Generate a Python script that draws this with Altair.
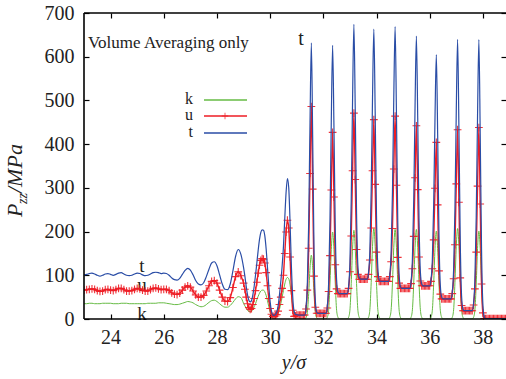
import altair as alt
import numpy as np
import pandas as pd

# ---------------- data ----------------
# grid of y/sigma positions: 0.1 steps up to 28.9, then 0.05 steps
x_coarse = np.round(23.0 + 0.1 * np.arange(60), 2)
x_fine = np.round(29.0 + 0.05 * np.arange(199), 2)
y_sigma = list(x_coarse) + list(x_fine)

t_vals = [
    101, 102, 104, 105, 103, 100, 98, 100, 103, 104,
    102, 100, 102, 105, 106, 103, 100, 99, 100, 103,
    105, 104, 101, 99, 100, 103, 106, 107, 106, 104,
    105, 104, 100, 94, 90, 89, 93, 102, 111, 116,
    112, 101, 88, 80, 78, 83, 97, 114, 128, 131,
    122, 101, 80, 68, 67, 80, 110, 143, 159, 148,
    118, 98, 75, 55, 43, 39, 42, 55, 75, 100,
    128, 157, 182, 198, 204, 203, 190, 160, 118, 75,
    40, 18, 9, 8, 10, 16, 30, 55, 85, 120,
    165, 230, 290, 321, 300, 220, 120, 50, 18, 11,
    10, 9, 9, 9, 9, 9, 9, 26, 81, 220,
    450, 632, 414, 156, 42, 16, 13, 13, 13, 13,
    13, 13, 13, 29, 83, 225, 454, 626, 438, 204,
    89, 62, 58, 58, 58, 58, 58, 58, 58, 74,
    128, 271, 501, 674, 481, 240, 122, 95, 91, 91,
    91, 91, 91, 91, 106, 156, 291, 505, 663, 474,
    236, 118, 90, 86, 86, 86, 86, 86, 86, 86,
    101, 152, 289, 507, 669, 470, 223, 103, 74, 70,
    70, 70, 70, 70, 70, 70, 85, 136, 271, 487,
    647, 460, 224, 108, 80, 76, 76, 76, 76, 76,
    76, 90, 135, 261, 460, 605, 422, 190, 77, 50,
    46, 46, 46, 46, 46, 46, 46, 62, 113, 253,
    475, 640, 433, 177, 52, 23, 19, 19, 19, 19,
    19, 19, 19, 36, 89, 233, 465, 639, 424, 160,
    34, 5, 1, 1, 1, 1, 1, 1, 1, 1,
    1, 1, 1, 1, 1, 1, 1, 1, 1,
]

k_vals = [
    35, 35, 36, 36, 35, 35, 35, 36, 36, 36,
    36, 35, 35, 35, 36, 36, 36, 35, 35, 35,
    35, 35, 35, 35, 36, 36, 36, 36, 37, 37,
    37, 36, 35, 34, 33, 33, 34, 36, 38, 40,
    39, 37, 33, 30, 28, 29, 33, 38, 42, 43,
    40, 35, 30, 27, 27, 31, 38, 46, 51, 49,
    36, 30, 25, 20, 17, 17, 18, 22, 28, 35,
    44, 52, 59, 64, 66, 66, 62, 54, 42, 28,
    16, 7, 3, 2, 3, 6, 12, 22, 35, 50,
    65, 80, 91, 95, 92, 78, 55, 30, 12, 4,
    1, 0, 0, 0, 0, 0, 0, 3, 15, 58,
    117, 146, 117, 58, 15, 3, 0, 0, 0, 0,
    0, 0, 0, 4, 20, 80, 159, 199, 159, 80,
    20, 4, 0, 0, 0, 0, 0, 0, 0, 4,
    20, 81, 162, 203, 162, 81, 20, 4, 0, 0,
    0, 0, 0, 0, 4, 21, 83, 166, 207, 166,
    83, 21, 4, 0, 0, 0, 0, 0, 0, 0,
    4, 21, 82, 164, 205, 164, 82, 21, 4, 0,
    0, 0, 0, 0, 0, 0, 4, 21, 82, 164,
    205, 164, 82, 21, 4, 0, 0, 0, 0, 0,
    0, 4, 20, 80, 161, 201, 161, 80, 20, 4,
    0, 0, 0, 0, 0, 0, 0, 4, 21, 83,
    166, 207, 166, 83, 21, 4, 0, 0, 0, 0,
    0, 0, 0, 4, 20, 80, 161, 201, 161, 80,
    20, 4, 0, 0, 0, 0, 0, 0, 0, 0,
    0, 0, 0, 0, 0, 0, 0, 0, 0,
]

u_vals = [
    66, 67, 68, 69, 68, 65, 63, 64, 67, 68,
    66, 65, 67, 70, 70, 67, 64, 64, 65, 68,
    70, 69, 66, 64, 64, 67, 70, 71, 69, 67,
    68, 68, 65, 60, 57, 56, 59, 66, 73, 76,
    73, 64, 55, 50, 50, 54, 64, 76, 86, 88,
    82, 66, 50, 41, 40, 49, 72, 97, 108, 99,
    82, 68, 50, 35, 26, 22, 24, 33, 47, 65,
    84, 105, 123, 134, 138, 137, 128, 106, 76, 47,
    24, 11, 6, 6, 7, 10, 18, 33, 50, 70,
    100, 150, 199, 226, 208, 142, 65, 20, 6, 7,
    9, 9, 9, 9, 9, 9, 9, 23, 66, 162,
    333, 486, 297, 98, 27, 13, 13, 13, 13, 13,
    13, 13, 13, 25, 63, 145, 295, 427, 279, 124,
    69, 58, 58, 58, 58, 58, 58, 58, 58, 70,
    108, 190, 339, 471, 319, 159, 102, 91, 91, 91,
    91, 91, 91, 91, 102, 135, 208, 339, 456, 308,
    153, 97, 86, 86, 86, 86, 86, 86, 86, 86,
    97, 131, 207, 343, 464, 306, 141, 82, 70, 70,
    70, 70, 70, 70, 70, 70, 81, 115, 189, 323,
    442, 296, 142, 87, 76, 76, 76, 76, 76, 76,
    76, 86, 115, 181, 299, 404, 261, 110, 57, 46,
    46, 46, 46, 46, 46, 46, 46, 58, 92, 170,
    309, 433, 267, 94, 31, 19, 19, 19, 19, 19,
    19, 19, 19, 32, 69, 153, 304, 438, 263, 80,
    14, 1, 1, 1, 1, 1, 1, 1, 1, 1,
    1, 1, 1, 1, 1, 1, 1, 1, 1,
]

x_ticks = [24, 26, 28, 30, 32, 34, 36, 38]
y_ticks = [0, 100, 200, 300, 400, 500, 600, 700]
series_names = ["k", "u", "t"]
series_colors = ["#66bb44", "#ee1c24", "#2a4da6"]

# ---------------- chart ----------------
W, H = 422, 306
FONT = "Liberation Serif"
TXT = "#222222"
PLUS = "M-1,0H1M0,-1V1"

df = pd.DataFrame({"y": y_sigma, "k": k_vals, "u": u_vals, "t": t_vals})
one = pd.DataFrame({"d": [0]})

xs = alt.Scale(domain=[23.0, 38.87], nice=False, zero=False)
ys = alt.Scale(domain=[0, 700], nice=False, zero=True)

base = alt.Chart(df)

k_line = base.mark_line(color=series_colors[0], strokeWidth=1, interpolate="monotone", clip=True).encode(
    x=alt.X("y:Q", scale=xs, axis=None),
    y=alt.Y("k:Q", scale=ys, axis=None),
)

u_line = base.mark_line(color=series_colors[1], strokeWidth=1.4, interpolate="monotone", clip=True).encode(
    x=alt.X("y:Q", scale=xs, axis=alt.Axis(orient="top", values=x_ticks, offset=-5, tickSize=5,
                                            domain=False, labels=False, grid=False, title=None,
                                            tickColor="black", tickWidth=1.2)),
    y=alt.Y("u:Q", scale=ys, axis=alt.Axis(orient="right", values=y_ticks, offset=-5, tickSize=5,
                                            domain=False, labels=False, grid=False, title=None,
                                            tickColor="black", tickWidth=1.2)),
)

u_pts = base.mark_point(shape=PLUS, size=60, filled=False, color=series_colors[1],
                        strokeWidth=1.1, opacity=0.9, clip=True).encode(
    x=alt.X("y:Q", scale=xs, axis=None),
    y=alt.Y("u:Q", scale=ys, axis=None),
)

t_line = base.mark_line(color=series_colors[2], strokeWidth=1.2, interpolate="monotone", clip=True).encode(
    x=alt.X("y:Q", scale=xs, axis=alt.Axis(orient="bottom", values=x_ticks, offset=-5, tickSize=5,
                                            domain=False, grid=False, title=None, labelFont=FONT,
                                            labelFontSize=20, labelColor=TXT, labelPadding=8,
                                            labelFlush=False, tickColor="black", tickWidth=1.2)),
    y=alt.Y("t:Q", scale=ys, axis=alt.Axis(orient="left", values=y_ticks, offset=-5, tickSize=5,
                                            domain=False, grid=False, title=None, labelFont=FONT,
                                            labelFontSize=20, labelColor=TXT, labelPadding=10,
                                            tickColor="black", tickWidth=1.2)),
)

# frame (left, bottom, top)
frame = alt.layer(
    alt.Chart(one).mark_rule(color="black", strokeWidth=1.6).encode(
        x=alt.value(0), y=alt.value(0), y2=alt.value(H)),
    alt.Chart(one).mark_rule(color="black", strokeWidth=1.6).encode(
        x=alt.value(0), x2=alt.value(W), y=alt.value(H)),
    alt.Chart(one).mark_rule(color="black", strokeWidth=1.6).encode(
        x=alt.value(0), x2=alt.value(W), y=alt.value(0)),
)

def label(text, x, y, size=20, align="center", style="normal", angle=0):
    return alt.Chart(one).mark_text(text=text, font=FONT, fontSize=size, color=TXT, align=align,
                                    baseline="alphabetic", fontStyle=style, angle=angle).encode(
        x=alt.value(x), y=alt.value(y))

annotations = alt.layer(
    label("Volume Averaging only", 4, 35, size=17, align="left"),
    label("t", 217, 32),
    label("t", 58, 259, size=19),
    label("u", 58, 278, size=19),
    label("k", 58, 307, size=19),
    label("y/σ", 210, 356, style="italic"),
    label("P", -62, 204, size=22, align="left", style="italic", angle=270),
    label("zz", -57, 191, size=14, align="left", style="italic", angle=270),
    label("/MPa", -62, 180, size=22, align="left", style="italic", angle=270),
)

# legend (hand-placed key)
leg_y = [87, 103, 120]
legend_parts = []
for name, col, ly in zip(series_names, series_colors, leg_y):
    legend_parts.append(label(name, 109, ly + 4, size=16, align="right"))
    legend_parts.append(alt.Chart(one).mark_rule(color=col, strokeWidth=1.3).encode(
        x=alt.value(120), x2=alt.value(163), y=alt.value(ly)))
legend_parts.append(alt.Chart(one).mark_point(shape=PLUS, size=42, filled=False,
                                              color=series_colors[1], strokeWidth=1).encode(
    x=alt.value(141), y=alt.value(leg_y[1])))
legend = alt.layer(*legend_parts)

chart = alt.layer(
    annotations, k_line, u_line, u_pts, t_line, frame, legend
).resolve_axis(x="independent", y="independent").properties(
    width=W, height=H,
    padding={"left": 84, "top": 13, "right": 0, "bottom": 60},
    autosize=alt.AutoSizeParams(type="none"),
    background="white",
).configure_view(stroke=None)

chart.save("out.html", embed_options={"renderer": "svg", "actions": False})
